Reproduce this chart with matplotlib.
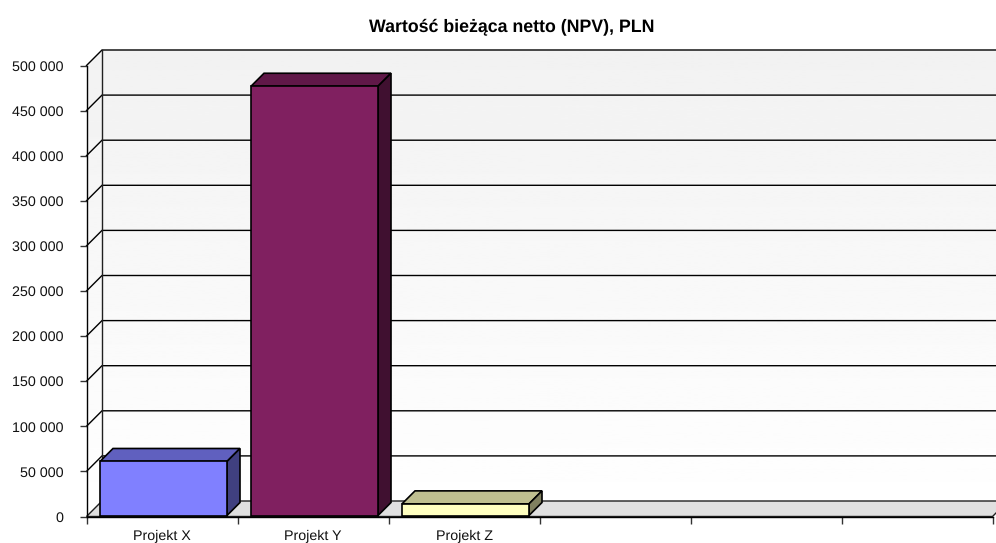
import numpy as np
import matplotlib
matplotlib.use("Agg")
import matplotlib.pyplot as plt
from matplotlib.patches import Polygon

title = "Wartość bieżąca netto (NPV), PLN"
categories = ["Projekt X", "Projekt Y", "Projekt Z", "", "", ""]
values = [61000, 477000, 14000]
front_colors = ["#8080FF", "#802060", "#FFFFC0"]
top_colors = ["#6060BF", "#601848", "#BFBF90"]
side_colors = ["#404080", "#401030", "#808060"]
y_ticks = [0, 50000, 100000, 150000, 200000, 250000, 300000, 350000, 400000, 450000, 500000]

W, H = 996, 543
plt.rcParams['font.family'] = ['Liberation Sans', 'DejaVu Sans']
plt.rcParams['text.hinting'] = 'none'
fig = plt.figure(figsize=(W / 100, H / 100), dpi=100)
L, R, T, B = 86.5, 992.5, 65.5, 516.5
ax = fig.add_axes([L / W, 1 - B / H, (R - L) / W, (B - T) / H])
ax.set_xlim(0, len(categories))
ax.set_ylim(0, max(y_ticks))
ax.patch.set_visible(False)

px = (R - L) / len(categories)      # pixels per category
py = (B - T) / max(y_ticks)         # pixels per value unit
wall_dx, wall_dy = 15.5 / px, 15.5 / py
bar_dx, bar_dy = 13 / px, 13 / py
inset_x, inset_dy = 13.5 / px, 1 / py
bar_w = 127 / px

# wall gradient
grad = np.linspace(0.947, 1.0, 256).reshape(-1, 1)
xmax = len(categories)
ytop = max(y_ticks)
wall = ax.imshow(grad, cmap="gray", vmin=0, vmax=1, aspect="auto", zorder=0,
                 extent=(0, xmax + wall_dx, 0, ytop + wall_dy), origin="upper")
clip_poly = Polygon([(0, 0), (wall_dx, wall_dy), (xmax + wall_dx, wall_dy), (xmax + wall_dx, ytop + wall_dy),
                     (wall_dx, ytop + wall_dy), (0, ytop)], transform=ax.transData, fill=False, ec="none", clip_on=False)
ax.add_patch(clip_poly)
wall.set_clip_box(fig.bbox)
wall.set_clip_path(clip_poly)
ax.set_xlim(0, xmax)
ax.set_ylim(0, ytop)

# floor
ax.add_patch(Polygon([(0, 0), (wall_dx, wall_dy), (xmax + wall_dx, wall_dy), (xmax, 0)],
                     fc="#E0E0E0", ec="#202020", lw=1, clip_on=False, zorder=1))
# gridlines on walls
for v in y_ticks:
    if v > 0:
        ax.plot([0, wall_dx, xmax + wall_dx], [v, v + wall_dy, v + wall_dy], color="black", lw=1,
                clip_on=False, zorder=1.5, solid_joinstyle="miter")
ax.plot([wall_dx, wall_dx], [wall_dy, ytop + wall_dy], color="#202020", lw=1, clip_on=False, zorder=1.5)

# bars
ec = "black"
for i, (v, f, t, s) in enumerate(zip(values, front_colors, top_colors, side_colors)):
    x0 = i + inset_x
    x1 = x0 + bar_w
    y0 = inset_dy
    ax.bar(x0, v - y0, width=bar_w, bottom=y0, align="edge", color=f, edgecolor=ec, lw=1.2, zorder=3, clip_on=False)
    ax.add_patch(Polygon([(x0, v), (x0 + bar_dx, v + bar_dy), (x1 + bar_dx, v + bar_dy), (x1, v)],
                         fc=t, ec=ec, lw=1.2, zorder=2.9, clip_on=False))
    ax.add_patch(Polygon([(x1, y0), (x1 + bar_dx, y0 + bar_dy), (x1 + bar_dx, v + bar_dy), (x1, v)],
                         fc=s, ec=ec, lw=1.2, zorder=2.9, clip_on=False))

# axes
for sp in ("top", "right"):
    ax.spines[sp].set_visible(False)
for sp in ("left", "bottom"):
    ax.spines[sp].set_linewidth(1.0)
    ax.spines[sp].set_zorder(4)
ax.set_yticks(y_ticks)
ax.set_yticklabels([f"{v:,}".replace(",", " ") for v in y_ticks], fontsize=10.3, color="#111111")
ax.set_xticks(range(len(categories) + 1))
ax.set_xticklabels([""] * (len(categories) + 1))
for i, c in enumerate(categories):
    if c:
        ax.annotate(c, xy=(i + 0.5, 0), xytext=(0, -9.5), textcoords="offset points",
                    ha="center", va="top", fontsize=10.3, color="#111111", annotation_clip=False)
ax.tick_params(axis="y", length=5, width=1, pad=11.5, color="#333333")
ax.tick_params(axis="x", length=5, width=1, color="#333333")
fig.text(511.5 / W, 1 - 27 / H, title, ha="center", va="center", fontsize=12.8, fontweight="bold", color="black")
fig.savefig("out.png", dpi=100, facecolor="white")
